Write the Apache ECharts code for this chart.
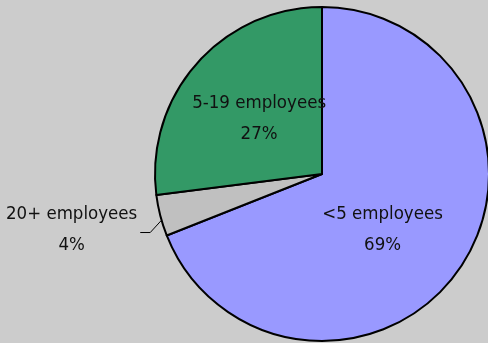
<!DOCTYPE html>
<html><head><meta charset="utf-8">
<script src="https://cdn.jsdelivr.net/npm/echarts@6/dist/echarts.min.js"></script>
<style>html,body{margin:0;padding:0;background:#CCCCCC;}#c{width:488px;height:343px;}</style>
</head><body><div id="c"></div>
<script>
var categories = ['<5 employees', '20+ employees', '5-19 employees'];
var values = [69, 4, 27];
var colors = ['#9999FF', '#C0C0C0', '#339966'];

var chart = echarts.init(document.getElementById('c'), null, {renderer: 'canvas'});
var font = '"DejaVu Sans Condensed", "Liberation Sans Narrow", sans-serif';
var data = categories.map(function (c, i) {
  var d = {name: c, value: values[i], itemStyle: {color: colors[i]}};
  if (i === 1) {
    d.label = {position: 'outside', alignTo: 'none'};
    d.labelLine = {show: true, length: 14, length2: 10, lineStyle: {color: '#000', width: 1}};
  } else {
    d.label = {position: 'inside'};
    d.labelLine = {show: false};
  }
  return d;
});
var shifts = [[-11, 7], [0, 0], [2, 2]];
chart.setOption({
  backgroundColor: '#CCCCCC',
  animation: false,
  series: [{
    type: 'pie',
    center: [322, 174],
    radius: [0, 167],
    startAngle: 90,
    clockwise: true,
    avoidLabelOverlap: false,
    itemStyle: {borderColor: '#000', borderWidth: 2},
    emphasis: {disabled: true},
    label: {
      show: true,
      color: '#111',
      fontFamily: font,
      fontSize: 18.5,
      lineHeight: 31,
      align: 'center',
      formatter: function (p) { return p.name + '\n' + p.value + '%'; }
    },
    labelLayout: function (p) {
      if (p.dataIndex === 1 && p.labelLinePoints) {
        var p0 = p.labelLinePoints[0];
        var a = [p0[0] + 1, p0[1] + 5];
        var b = [a[0] - 11, a[1] + 12];
        var c = [b[0] - 10, b[1]];
        return {
          x: c[0] - 3 - p.labelRect.width / 2,
          y: c[1] - 3,
          align: 'center',
          verticalAlign: 'middle',
          labelLinePoints: [a, b, c]
        };
      }
      return {dx: shifts[p.dataIndex][0], dy: shifts[p.dataIndex][1]};
    },
    data: data
  }]
});
</script></body></html>
